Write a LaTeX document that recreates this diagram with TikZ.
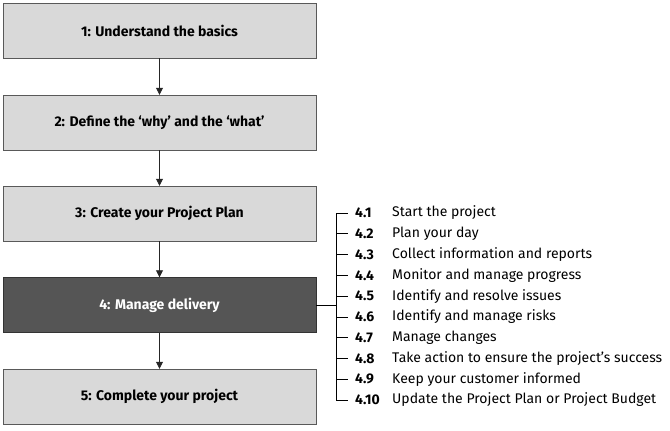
\documentclass[tikz,border=0pt]{standalone}
\usepackage{fontspec}
\setmainfont{Fira Sans}
\usetikzlibrary{arrows.meta, positioning}
\definecolor{boxgray}{HTML}{D9D9D9}
\definecolor{boxdark}{HTML}{555555}
\begin{document}
\begin{tikzpicture}[
    x=1pt, y=-1pt,
    stepbox/.style={rectangle, draw=gray!70!black, fill=boxgray, minimum width=313pt, minimum height=55pt, align=center, font=\fontsize{14}{16}\selectfont\bfseries},
    darkbox/.style={stepbox, fill=boxdark, draw=black!80, text=white},
    arrow/.style={-{Triangle[length=7pt, width=7pt]}, thick, draw=black!85},
    item/.style={anchor=west, font=\fontsize{14}{16}\selectfont, inner sep=0pt},
    num/.style={anchor=west, font=\fontsize{14}{16}\selectfont\bfseries, inner sep=0pt},
]
\useasboundingbox (0,0) rectangle (670,431);

% ============ Steps ============
\node[stepbox] (basics) at (159.5,30.5) {1: Understand the basics};
\node[stepbox] (define) at (159.5,122.5) {2: Define the ‘why’ and the ‘what’};
\node[stepbox] (plan) at (159.5,213.5) {3: Create your Project Plan};
\node[darkbox] (delivery) at (159.5,305) {4: Manage delivery};
\node[stepbox] (complete) at (159.5,396.5) {5: Complete your project};

\draw[arrow] (basics) -- (define);
\draw[arrow] (define) -- (plan);
\draw[arrow] (plan) -- (delivery);
\draw[arrow] (delivery) -- (complete);

% ============ Sub-steps of step 4 ============
\coordinate (bartop) at (336,213);
\coordinate (barbot) at (336,400);
\draw[thick] (delivery.east) -- (delivery.east -| bartop);
\draw[thick] (bartop) -- (barbot);
\foreach \n/\t [count=\i from 0] in {
    4.1/Start the project,
    4.2/Plan your day,
    4.3/Collect information and reports,
    4.4/Monitor and manage progress,
    4.5/Identify and resolve issues,
    4.6/Identify and manage risks,
    4.7/Manage changes,
    4.8/Take action to ensure the project’s success,
    4.9/Keep your customer informed,
    4.10/Update the Project Plan or Project Budget} {
    \coordinate (tick\i) at (336,213+20.78*\i);
    \draw[thick] (tick\i) -- ++(12,0);
    \node[num] (num\i) at ([xshift=19pt]tick\i) {\n};
    \node[item] (sub\i) at ([xshift=56pt]tick\i) {\t};
}
\end{tikzpicture}
\end{document}
